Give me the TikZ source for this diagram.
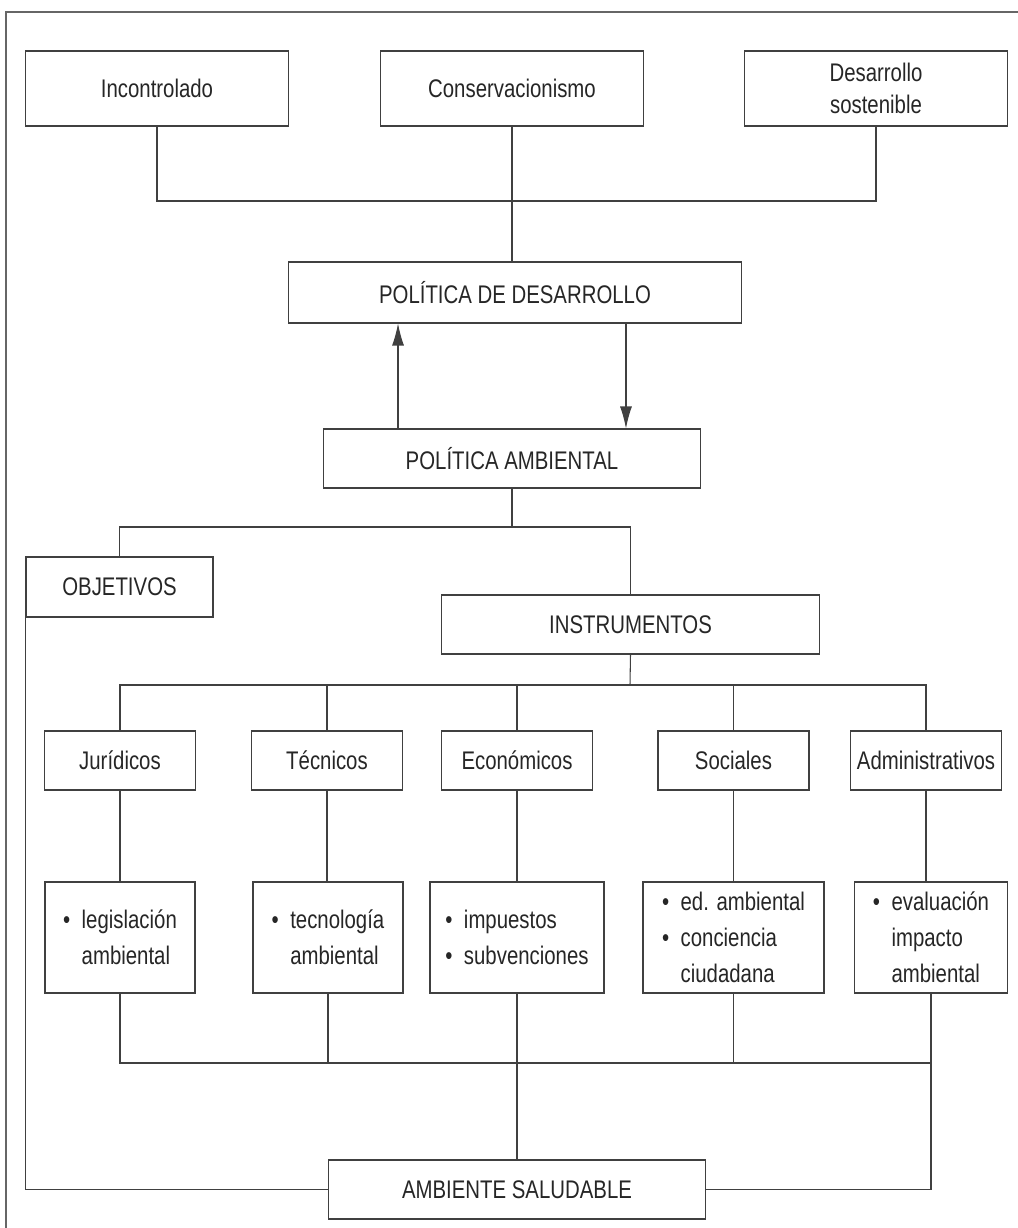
\documentclass[tikz,border=0pt]{standalone}
\usepackage{fontspec}
\setmainfont[FakeStretch=0.8]{Liberation Sans}
\usepackage{tikz}
\usetikzlibrary{arrows.meta, positioning, calc}
\usepackage{xcolor}

\newcommand{\bul}{\textbullet\hspace{0.45em}}
\newcommand{\ind}{\hphantom{\textbullet\hspace{0.45em}}}

\begin{document}
\begin{tikzpicture}[%
    x=0.02cm, y=-0.02cm,
    every node/.style={%
      font=\fontsize{14.5}{20.5}\selectfont,
      text=black!85,
      align=center
    },
    box/.style={draw=black!75, line width=0.6pt, inner sep=2pt},
    topbox/.style={box, minimum width=5.26cm, minimum height=1.5cm},
    headbox/.style={box, minimum width=7.56cm, minimum height=1.18cm},
    kindbox/.style={box, minimum width=3.02cm, minimum height=1.18cm},
    listbox/.style={box, minimum height=2.22cm, align=left},
    wire/.style={draw=black!75, line width=0.6pt},
    arr/.style={wire, -{Latex[length=4.4mm,width=2.4mm]}}
  ]

  \useasboundingbox (0,0) rectangle (1018,1228);

  % page frame
  \draw[wire, draw=black!60] (6,1228) -- (6,12) -- (1018,12);

  % kinds of development
  \node[topbox] (inc) at (157,88.5) {Incontrolado};
  \node[topbox] (con) at (512,88.5) {Conservacionismo};
  \node[topbox, font=\fontsize{14.5}{18}\selectfont] (sos) at (876,88.5) {Desarrollo\\sostenible};

  \node[headbox, minimum width=9.06cm, minimum height=1.22cm]
    (pdes) at (515,292.5) {POLÍTICA DE DESARROLLO};
  \node[headbox] (pamb) at (512,458.5) {POLÍTICA AMBIENTAL};

  \node[box, minimum width=3.74cm, minimum height=1.2cm]
    (obj) at (119.5,587) {OBJETIVOS};
  \node[headbox, minimum width=7.58cm] (inst) at (630.5,624.5) {INSTRUMENTOS};

  % instruments
  \node[kindbox] (jur) at (120,760.5) {Jurídicos};
  \node[kindbox] (tec) at (327,760.5) {Técnicos};
  \node[kindbox] (eco) at (517,760.5) {Económicos};
  \node[kindbox] (soc) at (733.5,760.5) {Sociales};
  \node[kindbox] (adm) at (926,760.5) {Administrativos};

  \node[listbox, minimum width=3.0cm] (leg) at (120,937.5)
    {\bul legislación\\\ind ambiental};
  \node[listbox, minimum width=3.0cm] (tcn) at (328,937.5)
    {\bul tecnología\\\ind ambiental};
  \node[listbox, minimum width=3.48cm] (imp) at (517,937.5)
    {\bul impuestos\\\bul subvenciones};
  \node[listbox, minimum width=3.62cm] (edu) at (733.5,937.5)
    {\bul ed. ambiental\\\bul conciencia\\\ind ciudadana};
  \node[listbox, minimum width=3.06cm] (eva) at (931,937.5)
    {\bul evaluación\\\ind impacto\\\ind ambiental};

  \node[headbox] (sal) at (517,1189.5) {AMBIENTE SALUDABLE};

  % junctions
  \coordinate (j1) at (513,201);
  \coordinate (j2) at (512,527);
  \coordinate (j3) at (630,685);
  \coordinate (j4) at (517,1063);

  % connectors
  \draw[wire] (inc.south) |- (j1) -| (sos.south);
  \draw[wire] (con.south) -- (con.south |- pdes.north);
  \draw[arr] ([xshift=-2.28cm]pamb.north) -- ([xshift=-2.28cm]pamb.north |- pdes.south);
  \draw[arr] ([xshift=2.28cm]pamb.north |- pdes.south) -- ([xshift=2.28cm]pamb.north);
  \draw[wire] (pamb.south) -- (j2);
  \draw[wire] (obj.north) |- (j2) -| (inst.north);
  \draw[wire] (inst.south) -- (j3);
  \draw[wire] (jur.north) |- (j3) -| (adm.north);
  \draw[wire] (tec.north) -- (tec.north |- j3);
  \draw[wire] (eco.north) -- (eco.north |- j3);
  \draw[wire] (soc.north) -- (soc.north |- j3);

  \draw[wire] (jur.south) -- (leg.north);
  \draw[wire] (tec.south) -- (tec.south |- tcn.north);
  \draw[wire] (eco.south) -- (imp.north);
  \draw[wire] (soc.south) -- (edu.north);
  \draw[wire] (adm.south) -- (adm.south |- eva.north);

  \draw[wire] (leg.south) |- (j4) -| (eva.south);
  \draw[wire] (tcn.south) -- (tcn.south |- j4);
  \draw[wire] (edu.south) -- (edu.south |- j4);
  \draw[wire] (imp.south) -- (sal.north);
  \draw[wire] (eva.south) |- (sal.east);
  \draw[wire] (obj.south west) |- (sal.west);

\end{tikzpicture}
\end{document}
